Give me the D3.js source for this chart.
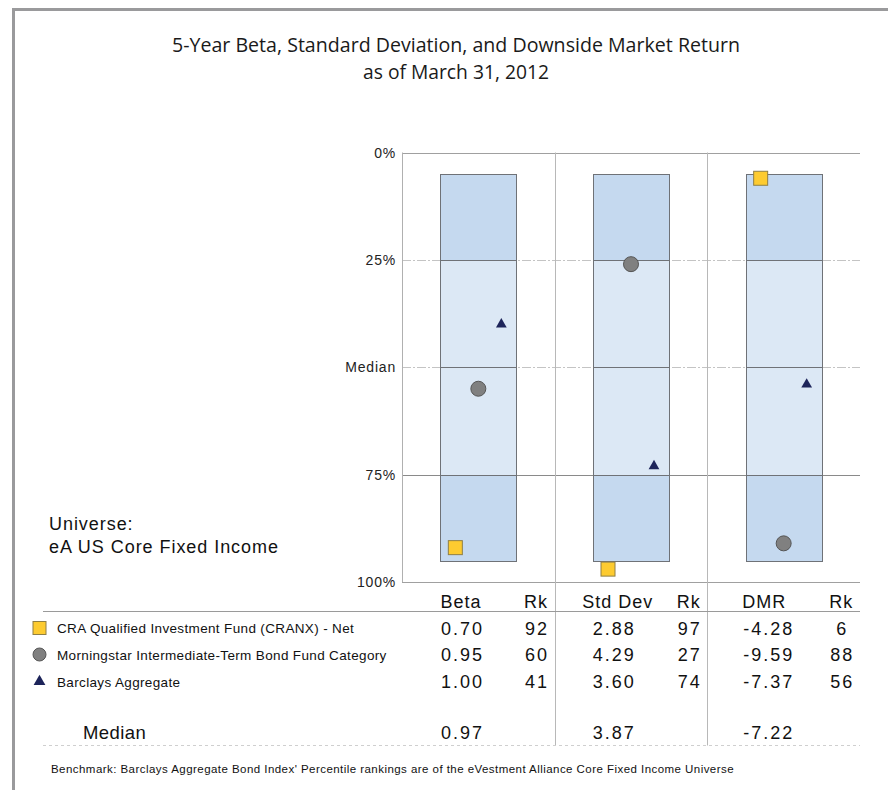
<!DOCTYPE html>
<html>
<head>
<meta charset="utf-8">
<script src="https://d3js.org/d3.v7.min.js"></script>
<style>
  body { margin: 0; background: #fff; }
  svg { display: block; font-family: "Liberation Sans", Arial, sans-serif; }
</style>
</head>
<body>
<div id="chart"></div>
<script>
// ---- data ----
const metrics = ["Beta", "Std Dev", "DMR"];
const seriesNames = [
    "CRA Qualified Investment Fund (CRANX) - Net",
    "Morningstar Intermediate-Term Bond Fund Category",
    "Barclays Aggregate"
];
const seriesKeys = ["cra", "morningstar", "barclays"];

// table values (row = series)
const betaValues = ["0.70", "0.95", "1.00"];
const betaRanks = [92, 60, 41];
const stdValues = ["2.88", "4.29", "3.60"];
const stdRanks = [97, 27, 74];
const dmrValues = ["-4.28", "-9.59", "-7.37"];
const dmrRanks = [6, 88, 56];
const medianValues = ["0.97", "3.87", "-7.22"];

// percentile where each marker sits in the picture
const betaPlotted = [92, 55, 40];
const stdPlotted = [97, 26, 73];
const dmrPlotted = [6, 91, 54];

// universe floating bar: 5th .. 95th percentile, split at quartiles
const universeBreaks = [5, 25, 50, 75, 95];

const yTicks = [0, 25, 50, 75, 100];
const yTickLabels = ["0%", "25%", "Median", "75%", "100%"];

const titleLines = [
    "5-Year Beta, Standard Deviation, and Downside Market Return",
    "as of March 31, 2012"
];
const universeLines = ["Universe:", "eA US Core Fixed Income"];
const footnote = "Benchmark: Barclays Aggregate Bond Index' Percentile rankings are of the eVestment Alliance Core Fixed Income Universe";

const columns = [
    { name: "Beta", values: betaValues, ranks: betaRanks, plotted: betaPlotted, headX: 59, valX: 39 },
    { name: "Std Dev", values: stdValues, ranks: stdRanks, plotted: stdPlotted, headX: 63, valX: 38 },
    { name: "DMR", values: dmrValues, ranks: dmrRanks, plotted: dmrPlotted, headX: 57, valX: 36 }
];

// ---- svg ----
const width = 888, height = 790;
const svg = d3.select("#chart").append("svg")
    .attr("width", width)
    .attr("height", height);

// frame
svg.append("path")
    .attr("d", `M13.5,${height} V9.5 H${width}`)
    .attr("fill", "none")
    .attr("stroke", "#9a9a9c")
    .attr("stroke-width", 3);

// title
svg.selectAll(".title")
    .data(titleLines)
    .join("text")
    .attr("class", "title")
    .attr("x", 456)
    .attr("y", (d, i) => 52 + i * 27)
    .attr("text-anchor", "middle")
    .attr("font-family", "'Open Sans', sans-serif")
    .attr("font-size", 20)
    .attr("textLength", (d, i) => i === 0 ? 568 : 186)
    .attr("lengthAdjust", "spacingAndGlyphs")
    .attr("fill", "#1a1a1a")
    .text(d => d);

// ---- scales ----
const plotLeft = 402, plotRight = 860;
const y = d3.scaleLinear().domain([0, 100]).range([152.5, 582]);
const x = d3.scaleBand().domain(metrics).range([plotLeft, plotRight]);
const offset = d3.scalePoint().domain(seriesKeys).range([-23, 23]);
const barW = x.bandwidth() / 2;
const center = m => x(m) + x.bandwidth() / 2;

const tableTop = 611.5, tableBottom = 745.5;

// dashed gridlines (25%, median)
svg.selectAll(".dash")
    .data([25, 50])
    .join("line")
    .attr("x1", plotLeft).attr("x2", plotRight)
    .attr("y1", d => Math.round(y(d)) + 0.5).attr("y2", d => Math.round(y(d)) + 0.5)
    .attr("stroke", "#c4c4c4")
    .attr("stroke-dasharray", "9,2,2,2");

// solid gridlines
svg.selectAll(".solid")
    .data([0, 75, 100])
    .join("line")
    .attr("x1", plotLeft).attr("x2", plotRight)
    .attr("y1", d => Math.round(y(d)) + 0.5).attr("y2", d => Math.round(y(d)) + 0.5)
    .attr("stroke", d => d === 75 ? "#8a8a8a" : "#a0a0a0");

// axis line
svg.append("line")
    .attr("x1", plotLeft + 0.5).attr("x2", plotLeft + 0.5)
    .attr("y1", y(0)).attr("y2", y(100))
    .attr("stroke", "#b0b0b0");

// column separators running through the table
svg.selectAll(".sep")
    .data(metrics.slice(1))
    .join("line")
    .attr("x1", d => Math.round(x(d)) + 0.5).attr("x2", d => Math.round(x(d)) + 0.5)
    .attr("y1", y(0)).attr("y2", tableBottom)
    .attr("stroke", "#b8b8b8");

// y labels
svg.selectAll(".ylab")
    .data(yTicks)
    .join("text")
    .attr("x", 396)
    .attr("y", d => y(d) + 5)
    .attr("text-anchor", "end")
    .attr("font-size", 14)
    .attr("letter-spacing", 0.8)
    .attr("fill", "#222")
    .text((d, i) => yTickLabels[i]);

// ---- universe bars ----
const segments = d3.pairs(universeBreaks).map(([a, b], i) => ({ a, b, inner: i === 1 || i === 2 }));
const barG = svg.selectAll(".bar")
    .data(metrics)
    .join("g")
    .attr("class", "bar");

barG.selectAll("rect")
    .data(m => segments.map(s => ({ m, ...s })))
    .join("rect")
    .attr("x", d => Math.round(center(d.m) - barW / 2) + 0.5)
    .attr("y", d => Math.round(y(d.a)) + 0.5)
    .attr("width", Math.round(barW))
    .attr("height", d => Math.round(y(d.b)) - Math.round(y(d.a)))
    .attr("fill", d => d.inner ? "#dce8f5" : "#c5d9ef")
    .attr("stroke", "#6f7277")
    .attr("stroke-width", 1);

// ---- markers ----
const triangle = d3.symbol().type(d3.symbolTriangle);

function drawMarker(g, key, big) {
    if (key === "cra") {
        const s = big ? 13 : 14;
        g.append("rect")
            .attr("x", -s / 2).attr("y", -s / 2)
            .attr("width", s).attr("height", s)
            .attr("fill", "#fdcb30")
            .attr("stroke", "#8f7f45");
    } else if (key === "morningstar") {
        g.append("circle")
            .attr("r", big ? 6.5 : 7.5)
            .attr("fill", "#808080")
            .attr("stroke", "#555");
    } else {
        g.append("path")
            .attr("d", triangle.size(big ? 60 : 50)())
            .attr("fill", "#1d245a");
    }
}

columns.forEach(col => {
    seriesKeys.forEach((key, i) => {
        const g = svg.append("g")
            .attr("transform", `translate(${center(col.name) + offset(key)},${y(col.plotted[i])})`);
        drawMarker(g, key, false);
    });
});

// universe label
svg.selectAll(".uni")
    .data(universeLines)
    .join("text")
    .attr("x", 49)
    .attr("y", (d, i) => 530 + i * 23)
    .attr("font-size", 18)
    .attr("letter-spacing", 0.95)
    .attr("fill", "#111")
    .text(d => d);

// ---- table ----
const headerY = 608;
const rowY = [634.5, 661, 688];
const medianY = 739;

svg.append("line")
    .attr("x1", 43).attr("x2", plotRight)
    .attr("y1", tableTop).attr("y2", tableTop)
    .attr("stroke", "#9a9a9a");

svg.append("line")
    .attr("x1", 43).attr("x2", plotRight)
    .attr("y1", tableBottom).attr("y2", tableBottom)
    .attr("stroke", "#cfcfcf")
    .attr("stroke-dasharray", "3,3");

const colG = svg.selectAll(".col")
    .data(columns)
    .join("g")
    .attr("transform", d => `translate(${x(d.name)},0)`);

colG.append("text")
    .attr("x", d => d.headX).attr("y", headerY)
    .attr("text-anchor", "middle")
    .attr("font-size", 18).attr("letter-spacing", 1)
    .attr("fill", "#111")
    .text(d => d.name);

colG.append("text")
    .attr("x", 134).attr("y", headerY)
    .attr("text-anchor", "middle")
    .attr("font-size", 18).attr("letter-spacing", 1)
    .attr("fill", "#111")
    .text("Rk");

colG.selectAll(".val")
    .data(d => d.values.map(v => ({ v, x: d.valX })))
    .join("text")
    .attr("x", d => d.x).attr("y", (d, i) => rowY[i])
    .attr("font-size", 18).attr("letter-spacing", 2)
    .attr("fill", "#111")
    .text(d => d.v);

colG.selectAll(".rk")
    .data(d => d.ranks)
    .join("text")
    .attr("x", 135).attr("y", (d, i) => rowY[i])
    .attr("text-anchor", "middle")
    .attr("font-size", 18).attr("letter-spacing", 2)
    .attr("fill", "#111")
    .text(d => d);

colG.append("text")
    .attr("x", d => d.valX).attr("y", medianY)
    .attr("font-size", 18).attr("letter-spacing", 2)
    .attr("fill", "#111")
    .text((d, i) => medianValues[i]);

// legend rows
seriesKeys.forEach((key, i) => {
    const g = svg.append("g")
        .attr("transform", `translate(39.5,${rowY[i] - 6.5})`);
    drawMarker(g, key, true);
    svg.append("text")
        .attr("x", 57).attr("y", rowY[i] - 1.5)
        .attr("font-size", 13.5).attr("letter-spacing", 0.35)
        .attr("fill", "#111")
        .text(seriesNames[i]);
});

svg.append("text")
    .attr("x", 83).attr("y", medianY)
    .attr("font-size", 18.5).attr("letter-spacing", 0.4)
    .attr("fill", "#111")
    .text("Median");

svg.append("text")
    .attr("x", 51).attr("y", 773)
    .attr("font-size", 11.5).attr("letter-spacing", 0.45)
    .attr("fill", "#111")
    .text(footnote);
</script>
</body>
</html>
